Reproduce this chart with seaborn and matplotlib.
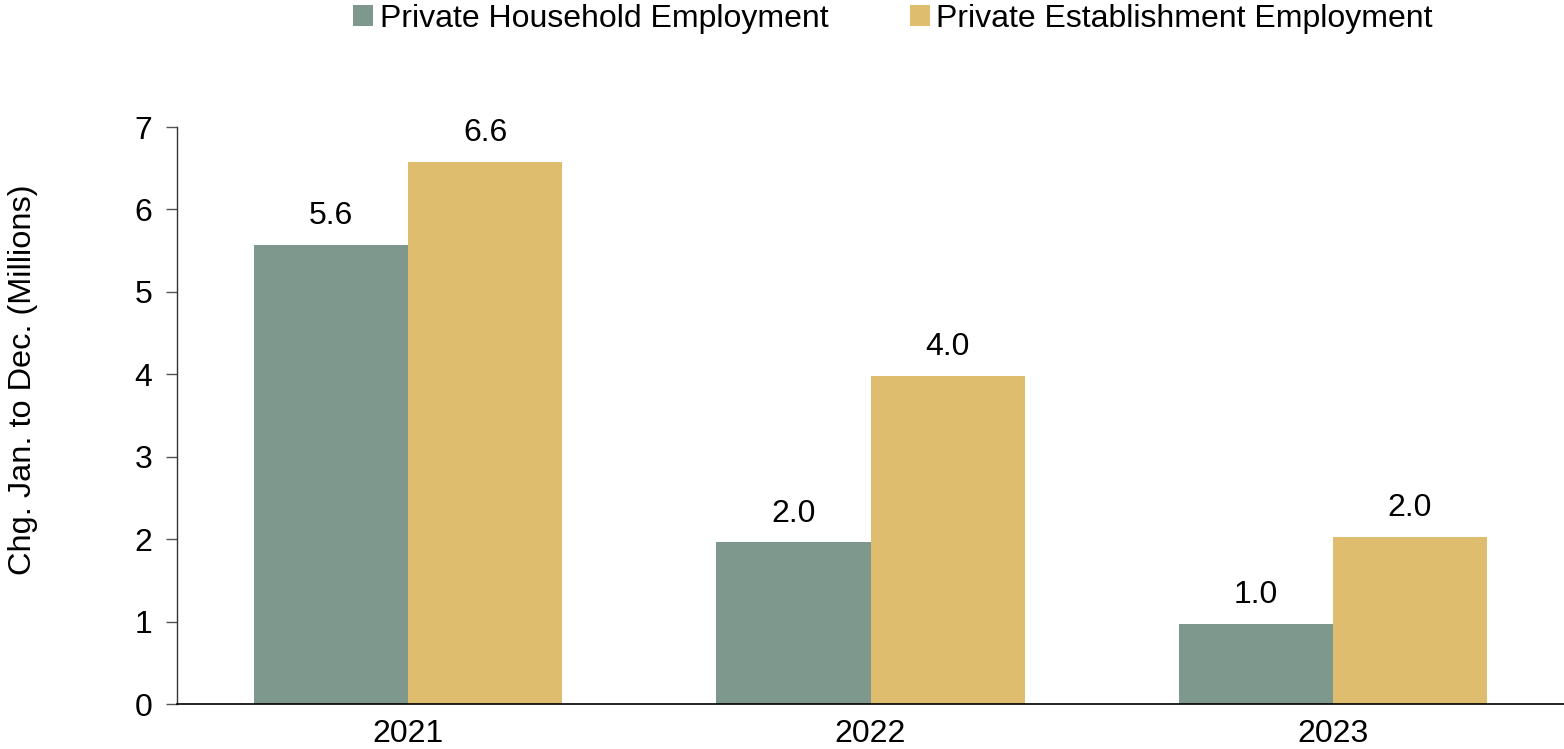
import matplotlib
matplotlib.use("Agg")
import matplotlib.pyplot as plt
import seaborn as sns
import pandas as pd

years = ["2021", "2022", "2023"]
household = [5.57, 1.96, 0.97]
establishment = [6.58, 3.98, 2.03]
labels_household = ["5.6", "2.0", "1.0"]
labels_establishment = ["6.6", "4.0", "2.0"]
series_names = ["Private Household Employment", "Private Establishment Employment"]
colors = ["#7e988e", "#debd6f"]

df = pd.DataFrame({
    "Year": years * 2,
    "Value": household + establishment,
    "Series": [series_names[0]] * 3 + [series_names[1]] * 3,
})

sns.set_theme(style="white")
plt.rcParams["font.family"] = ["Liberation Sans", "DejaVu Sans"]
plt.rcParams["text.color"] = "black"
plt.rcParams["xtick.color"] = "black"
plt.rcParams["ytick.color"] = "black"

fig = plt.figure(figsize=(15.64, 7.49), dpi=100)
ax = fig.add_axes([0.1132, 0.06, 0.8868, 0.7704])

sns.barplot(data=df, x="Year", y="Value", hue="Series", palette=colors,
            width=0.667, ax=ax, saturation=1, edgecolor="none", linewidth=0)

ax.set_ylim(0, 7)
ax.set_xlim(-0.5, 2.5)
ax.set_yticks(range(0, 8))
ax.tick_params(axis="y", direction="out", length=8, width=1, color="#555555",
               labelcolor="black", labelsize=23, pad=10, left=True)
ax.tick_params(axis="x", length=0, labelsize=23, pad=11, labelcolor="black")
ax.set_xlabel("")
ax.set_ylabel("")
for s in ["top", "right"]:
    ax.spines[s].set_visible(False)
ax.spines["left"].set_color("#333333")
ax.spines["bottom"].set_color("#000000")
ax.spines["left"].set_linewidth(1)
ax.spines["bottom"].set_linewidth(1.2)

for cont, labs in zip(ax.containers, [labels_household, labels_establishment]):
    ax.bar_label(cont, labels=labs, padding=10, fontsize=23, color="black")

handles, lbls = ax.get_legend_handles_labels()
ax.get_legend().remove()
fig.legend(handles, lbls, loc="center", bbox_to_anchor=(893 / 1564, 1 - 19 / 749),
           ncol=2, frameon=False, fontsize=23, handlelength=0.63, handleheight=0.63,
           handletextpad=0.2, columnspacing=2.55, borderaxespad=0)

fig.text(0.015, 0.493, "Chg. Jan. to Dec. (Millions)", rotation=90, fontsize=23.4,
         va="center", ha="center", color="black")

fig.savefig("out.png", dpi=100)
